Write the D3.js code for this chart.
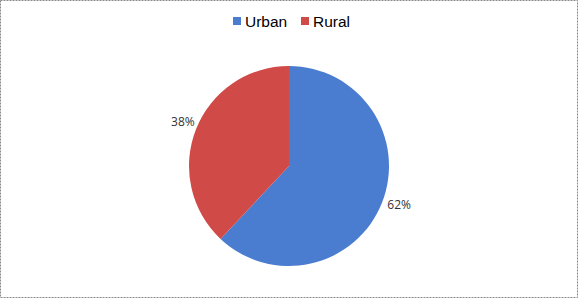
<!DOCTYPE html>
<html>
<head>
<meta charset="utf-8">
<script src="https://cdn.jsdelivr.net/npm/d3@7"></script>
<style>
body { margin: 0; background: #fff; }
svg { display: block; }
</style>
</head>
<body>
<div id="chart"></div>
<script>
// data
const categories = ["Urban", "Rural"];
const values = [62, 38];
const labels = ["62%", "38%"];
const colors = ["#4a7ccf", "#d04a48"];

const width = 578, height = 298;

const svg = d3.select("#chart")
  .append("svg")
  .attr("width", width)
  .attr("height", height);

// dashed frame
svg.append("rect")
  .attr("x", 0.5).attr("y", 0.5)
  .attr("width", width - 1).attr("height", height - 1)
  .attr("fill", "#fff")
  .attr("stroke", "#888")
  .attr("stroke-dasharray", "2,1");

const cx = 289, cy = 166, r = 100;

const pie = d3.pie().sort(null).value(d => d);
const arc = d3.arc().innerRadius(0).outerRadius(r);

const g = svg.append("g").attr("transform", `translate(${cx},${cy})`);

const arcs = pie(values);

g.selectAll("path")
  .data(arcs)
  .enter()
  .append("path")
  .attr("d", arc)
  .attr("fill", (d, i) => colors[i]);

// labels just outside the slices
const labelArc = d3.arc().innerRadius(r + 12).outerRadius(r + 12);
const labelOffset = [[6, -1], [-2, -2]];

g.selectAll("text.lbl")
  .data(arcs)
  .enter()
  .append("text")
  .attr("class", "lbl")
  .attr("x", (d, i) => labelArc.centroid(d)[0] + labelOffset[i][0])
  .attr("y", (d, i) => labelArc.centroid(d)[1] + labelOffset[i][1])
  .attr("text-anchor", "middle")
  .attr("dominant-baseline", "middle")
  .attr("font-family", "Open Sans, DejaVu Sans, sans-serif")
  .attr("font-size", 12)
  .attr("fill", "#333")
  .text((d, i) => labels[i]);

// legend
const legendX = [233, 301];
const legend = svg.append("g");
categories.forEach((c, i) => {
  legend.append("rect")
    .attr("x", legendX[i]).attr("y", 17)
    .attr("width", 8).attr("height", 8)
    .attr("fill", colors[i]);
  legend.append("text")
    .attr("x", legendX[i] + 12).attr("y", 27)
    .attr("font-family", "Liberation Sans, Arial, sans-serif")
    .attr("font-size", 15.5)
    .attr("fill", "#000")
    .text(c);
});
</script>
</body>
</html>
